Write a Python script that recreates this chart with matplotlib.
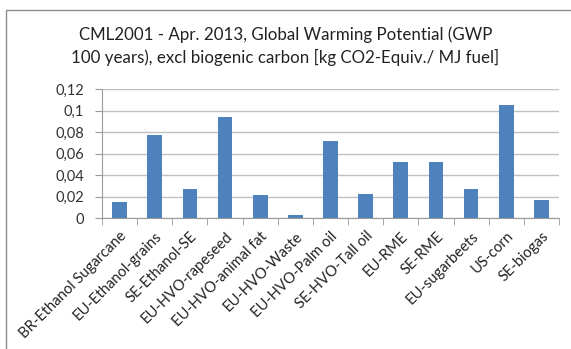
import numpy as np
import matplotlib.pyplot as plt
from matplotlib.patches import Rectangle

fuels = ["BR-Ethanol Sugarcane", "EU-Ethanol-grains", "SE-Ethanol-SE",
         "EU-HVO-rapeseed", "EU-HVO-animal fat", "EU-HVO-Waste",
         "EU-HVO-Palm oil", "SE-HVO-Tall oil", "EU-RME", "SE-RME",
         "EU-sugarbeets", "US-corn", "SE-biogas"]
gwp = [0.015, 0.077, 0.027, 0.094, 0.021, 0.003,
       0.072, 0.022, 0.052, 0.052, 0.027, 0.105, 0.017]

yticks = [0, 0.02, 0.04, 0.06, 0.08, 0.1, 0.12]
ytick_labels = ["0", "0,02", "0,04", "0,06", "0,08", "0,1", "0,12"]

title = ("CML2001 - Apr. 2013, Global Warming Potential (GWP\n"
         "100 years), excl biogenic carbon [kg CO2-Equiv./ MJ fuel]")

plt.rcParams['font.family'] = ['Lato', 'DejaVu Sans']

fig = plt.figure(figsize=(5.71, 3.49), dpi=100)
# chart area frame (only top and left edges visible)
fig.patches.append(Rectangle((6 / 571, -0.1), 1.2, 1 - 10 / 349 + 0.1,
                             transform=fig.transFigure, fill=False,
                             edgecolor='#8c8c8c', linewidth=1.0))

ax = fig.add_axes([102 / 571, 1 - 218 / 349, 457 / 571, 129 / 349])
x = np.arange(len(fuels))
ax.bar(x, gwp, width=0.42, color='#4f81bd', zorder=3)

ax.set_xlim(-0.5, len(fuels) - 0.5)
ax.set_ylim(0, 0.12)
ax.set_yticks(yticks)
ax.set_yticklabels(ytick_labels, fontsize=10.5, color='#333333')
ax.yaxis.grid(True, color='#c0c0c0', linewidth=1.0, zorder=0)

ax.set_xticks(x)
ax.set_xticklabels(fuels, rotation=45, ha='right', rotation_mode='anchor',
                   fontsize=10.6, color='#222222')
ax.tick_params(axis='x', length=0, pad=8)
ax.set_xticks(np.arange(-0.5, len(fuels)), minor=True)
ax.tick_params(axis='x', which='minor', length=5, color='#999999')
ax.tick_params(axis='y', length=5, color='#999999', pad=8)

for side in ['top', 'right']:
    ax.spines[side].set_visible(False)
ax.spines['left'].set_color('#999999')
ax.spines['bottom'].set_color('#999999')

fig.text(0.5, 1 - 46 / 349, title, ha='center', va='center',
         fontsize=12.2, linespacing=1.45, color='#222222')

fig.savefig('out.png', dpi=100)
